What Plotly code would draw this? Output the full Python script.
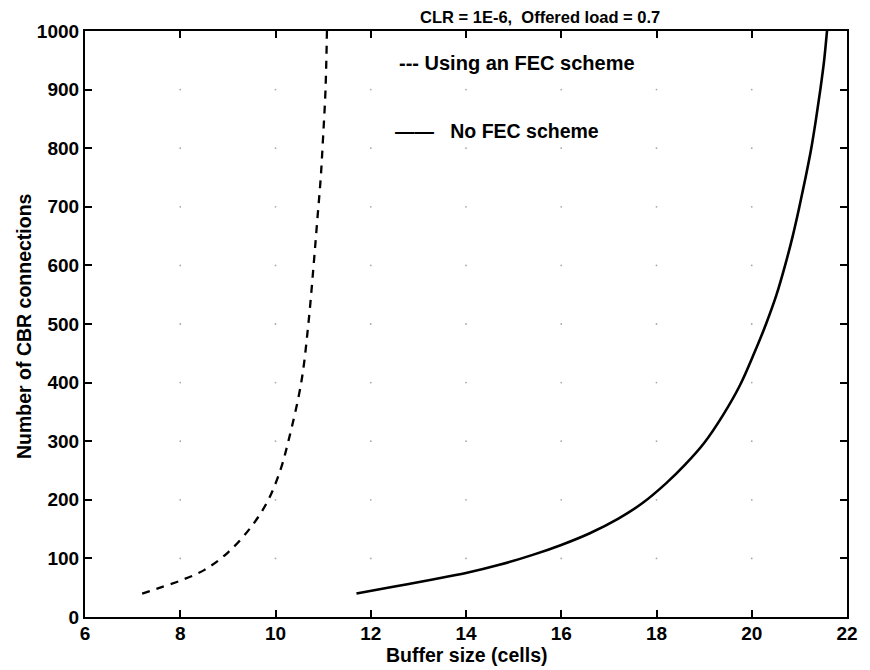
import numpy as np
import plotly.graph_objects as go

# Buffer size (cells) vs. number of CBR connections, CLR = 1E-6, load 0.7
fec_buffer = [7.2, 7.5, 8.0, 8.5, 9.0, 9.5, 9.85, 10.1, 10.27, 10.54, 10.69,
              10.8, 10.88, 10.95, 11.0, 11.05, 11.08]
fec_conn = [40, 48, 62, 80, 110, 155, 200, 250, 300, 400, 500,
            600, 680, 750, 820, 900, 1000]

nofec_buffer = [11.7, 12.5, 13.3, 14.0, 14.7, 15.4, 16.0, 16.6, 17.2, 17.7,
                18.2, 18.6, 19.0, 19.4, 19.75, 20.05, 20.3, 20.52, 20.7,
                20.86, 21.0, 21.13, 21.25, 21.35, 21.44, 21.52, 21.58]
nofec_conn = [40, 52, 64, 75, 89, 106, 123, 143, 168, 194,
              228, 260, 297, 345, 395, 450, 500, 550, 600,
              650, 700, 750, 800, 850, 900, 950, 1000]

x_ticks = [6, 8, 10, 12, 14, 16, 18, 20, 22]
y_ticks = [0, 100, 200, 300, 400, 500, 600, 700, 800, 900, 1000]

FONT = "Liberation Sans, Arial, Helvetica, sans-serif"


def bold(s):
    return "<b>" + s + "</b>"


fig = go.Figure()

# dotted grid: tiny dots at the interior tick intersections
gx, gy = np.meshgrid(x_ticks[1:-1], y_ticks[1:-1])
fig.add_trace(go.Scatter(
    x=gx.ravel(), y=gy.ravel(), mode="markers",
    marker=dict(size=1.8, color="#a8a8a8"), hoverinfo="skip", showlegend=False))

fig.add_trace(go.Scatter(
    x=fec_buffer, y=fec_conn, mode="lines", line_shape="spline",
    line=dict(color="black", width=2.3, dash="8px,7px"), showlegend=False))
fig.add_trace(go.Scatter(
    x=nofec_buffer, y=nofec_conn, mode="lines", line_shape="spline",
    line=dict(color="black", width=2.6), showlegend=False))

axis_common = dict(
    showline=True, linecolor="black", linewidth=2.2, mirror="ticks",
    ticks="inside", ticklen=7, tickwidth=1.6, tickcolor="black",
    showgrid=False, zeroline=False,
    tickfont=dict(family=FONT, size=19, color="black"),
)

fig.update_xaxes(range=[6, 22], tickvals=x_ticks,
                 ticktext=[bold(str(v)) for v in x_ticks],
                 ticklabelstandoff=-2, **axis_common)
fig.update_yaxes(range=[0, 1000], tickvals=y_ticks,
                 ticktext=[bold(str(v)) for v in y_ticks], **axis_common)

label_font = dict(family=FONT, size=19.5, color="black")

# axis titles
fig.add_annotation(
    x=0.5, y=-0.064, xref="paper", yref="paper", showarrow=False,
    text=bold("Buffer size (cells)"), font=label_font,
    xanchor="center", yanchor="middle")
fig.add_annotation(
    x=-0.081, y=0.497, xref="paper", yref="paper", showarrow=False,
    text=bold("Number of CBR connections"), font=label_font, textangle=-90,
    xanchor="center", yanchor="middle")

# title
fig.add_annotation(
    x=15.56, y=1.024, xref="x", yref="paper", showarrow=False,
    text=bold("CLR = 1E-6,\u00a0\u00a0Offered load = 0.7"),
    font=dict(family=FONT, size=16.5, color="black"),
    xanchor="center", yanchor="middle")

# curve labels
fig.add_annotation(
    x=12.56, y=945, xref="x", yref="y", showarrow=False,
    text=bold("--- Using an FEC scheme"),
    font=dict(family=FONT, size=20, color="black"), xanchor="left", yanchor="middle")
fig.add_annotation(
    x=12.46, y=829, xref="x", yref="y", showarrow=False,
    text=bold("\u2014\u2014\u00a0\u00a0\u00a0No FEC scheme"),
    font=dict(family=FONT, size=19.5, color="black"), xanchor="left", yanchor="middle")

fig.update_layout(
    width=870, height=670,
    margin=dict(l=85, r=17, t=31, b=53),
    paper_bgcolor="white", plot_bgcolor="white",
    font=dict(family=FONT, color="black"),
)

fig.write_html("out.html")
